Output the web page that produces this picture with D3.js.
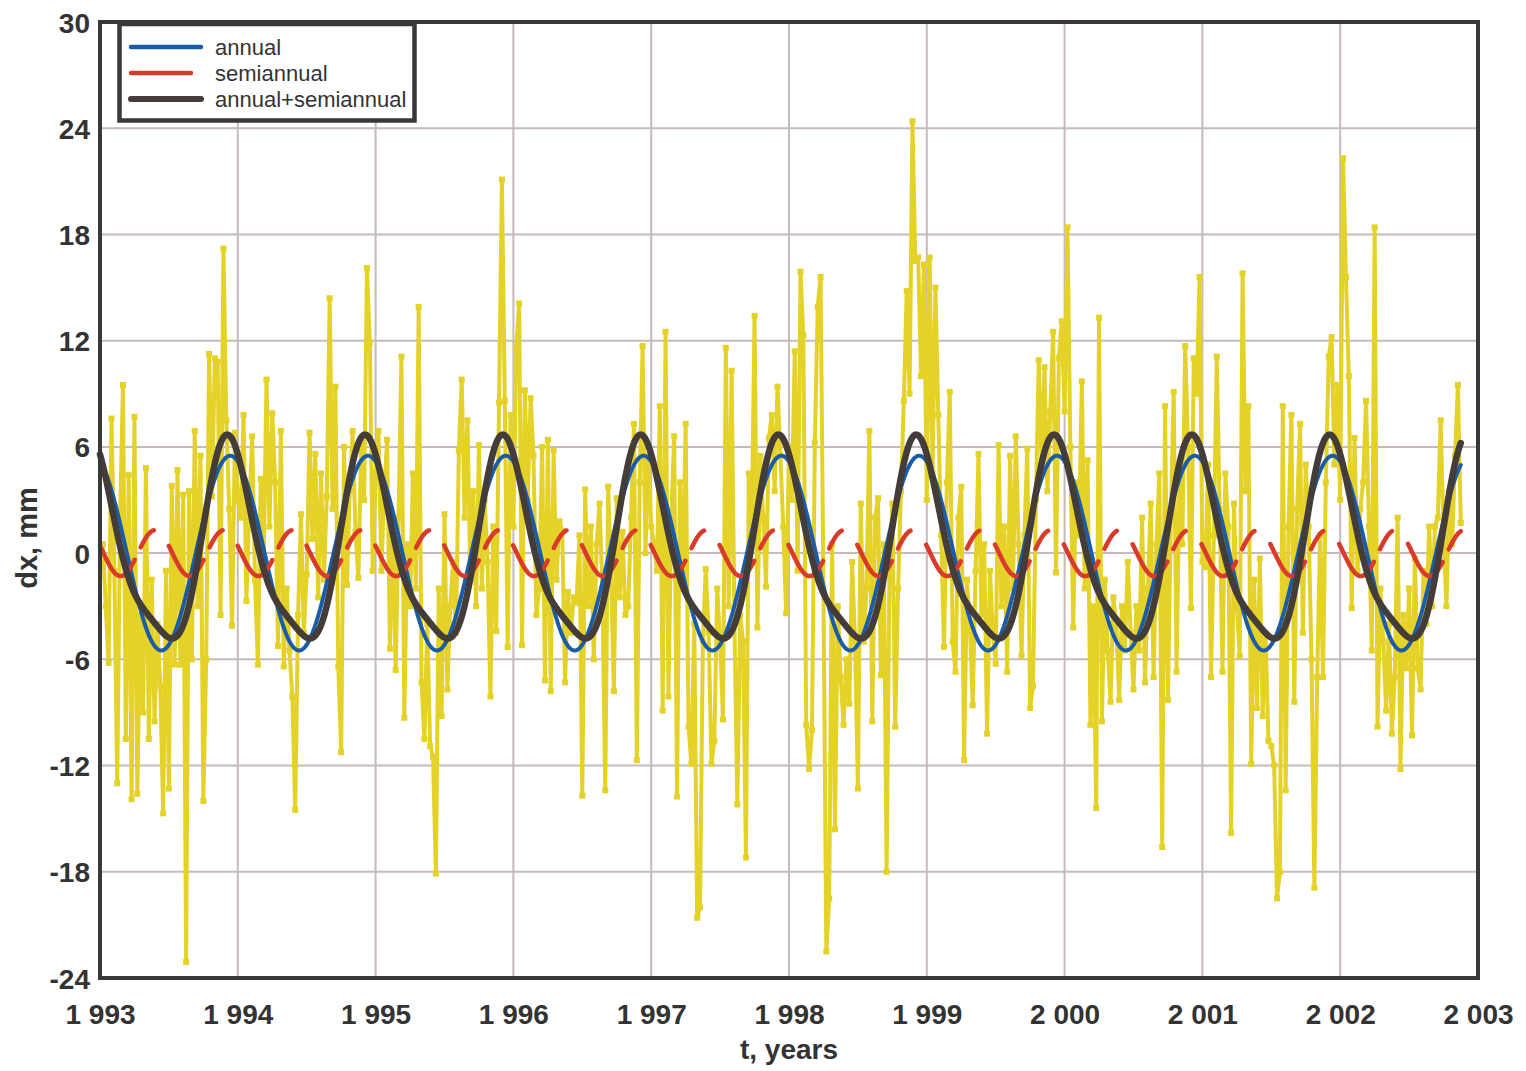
<!DOCTYPE html>
<html>
<head>
<meta charset="utf-8">
<script src="https://cdn.jsdelivr.net/npm/d3@7"></script>
<style>
  body { margin: 0; background: #fff; }
  svg text { font-family: Arial, "Liberation Sans", sans-serif; fill: #333; }
</style>
</head>
<body>
<svg id="chart" width="1526" height="1071"></svg>
<script>
// weekly-ish dx residuals, 48 samples per year
var dx1993 = [0.5,-3,-6.2,7.6,-1,-13,2,9.5,-10.5,4.4,-13.9,7.7,-13.6,-3.5,-9,4.8,-10.5,-1.5,-9.5,-4,-7.5,-14.7,-1,-13.3,3.8,-6.3,4.7,-6.3,3.3,-23.1,3.5,-6,6.9,-3,5.5,-14,-6,11.25,3.2,11,10.8,-3.5,17.2,7.5,2.5,-4.1,6.8,3];
var dx1994 = [2,7.8,-2.7,2.5,6.6,-1.5,-6.3,4.2,-0.5,9.8,1.5,7.9,4,-5.25,6.9,-6.4,-2,-5.5,-8.1,-14.5,-3.5,2.2,-4.5,-1.2,6.8,0.8,5.6,-2.5,4.5,-1.5,3.2,14.4,2.5,9.4,-6.4,-11.25,6,-1.8,3.5,6.9,1.2,-1.4,6.2,3,16.1,11.9,-1,4.5];
var dx1995 = [6.9,-1,3.5,6.4,-5.4,1.5,-6.6,2,11.1,-9.3,0.5,-3,4.5,-2,13.9,-7.3,-10.5,-4,-10.9,-11.5,-18.1,-2,-9.2,2.2,-7.7,-3,-0.5,-4.5,5.8,9.8,2,7.5,-1.5,3.5,-3,6.1,-2,3,-0.5,-8.1,1.5,-4.4,8.5,21.1,8.6,-5.3,7.8,1.5];
var dx1996 = [11.6,14.1,-5.2,9.2,3,8.75,5.5,-3.5,-2,6,-7.2,6.4,-7.8,5.8,-1.5,1.8,1.25,-7.3,-2.2,-4.5,-2.5,-2.8,1,-13.7,3.6,-3,1.5,-6,0.5,2.8,-2,-13.4,3.75,-1,-7.8,3.1,-2.5,1.2,-3.5,-3,2,7.3,-11.7,4,11.7,0,5.5,1.5];
var dx1997 = [0.5,-1,8.3,-8.9,12.5,-8.1,2,6.6,-13.75,4,-2,7.3,-9.8,-11.9,-4,-20.6,-20,-5,-0.9,-4.5,-11.9,-10.6,-2,-5,-9.4,11.6,-3,10.3,-4,-14.2,-3.5,-5,-17.2,4.5,1,13.4,-4.2,5.5,2,-1.9,6.5,7.8,3.5,9.4,5.5,1.5,-3.4,6];
var dx1998 = [3,11.4,-1,15.9,12.3,-9.7,-12.2,-10,6.25,13.9,15.6,-2,-22.5,-19.5,0.5,-15.6,-3,-7,-9.7,-6,-8.5,-0.5,-5,-13.3,2.8,-5,-2,6.9,-9.5,2,3.1,-6.9,0.5,-18,-1,2.8,-9.8,-2,3.5,8.6,14.8,9,24.4,16.5,16.7,10,16.3,3];
var dx1999 = [16.7,4.5,15,7.8,1,-5.3,4,9.1,-5,-6.7,2,3.75,-11.7,-1.5,-4,-8.6,-1,5.6,-3.5,0.5,-10.2,-1,-4.5,-6.25,6.1,-3,1.5,-6.7,5.5,-2,6.6,0.5,-5.8,1,5.9,-8.75,-7.5,3,10.9,5,10.5,3.5,8,12.5,-1.1,11,13.1,8];
var dx2000 = [18.4,6,-4.2,4,1,9.7,-2,5.25,-9.7,-3,-14.4,13.3,-9.5,-1.5,-5.5,-8.4,-2.5,-4,-8.3,-3,-5.5,-0.5,-4.5,-7.7,-3,-5.5,2,-7.3,-2,2.8,-7,0.5,4.5,-16.6,8.3,-8.3,2,9.1,-6.7,4,0.5,11.7,6,-3.1,11,9,15.6,-0.5];
var dx2001 = [-0.8,5,-7,1,11.1,2.5,-6.7,4.5,1.5,-15.8,2.8,-3,-5.8,15.8,3.5,8.3,-11.9,-1.5,-8.75,-0.3,-9.2,-4.5,-10.6,-10.9,-12,-19.5,-18,8.3,-13.4,1.5,7.8,-8.4,2.5,7.3,-4.5,5,1.5,-6,-18.9,-7,1,-7,4,11.1,12.2,5,9.5,3];
var dx2002 = [22.3,15.6,10,-3.1,6.5,-1,2.5,4,8.6,1.5,-5.5,18.4,-9.8,-2,-5,-8.9,-4,-10.2,-7,2,-12.2,-3.5,-6.5,-2,-10.3,-0.3,-6.5,-7.7,-1,-4,1.5,-3,1.5,2,7.5,1,-3,3.5,0.5,5.5,9.5,1.7];

var years = [1993,1994,1995,1996,1997,1998,1999,2000,2001,2002];
var dxByYear = [dx1993,dx1994,dx1995,dx1996,dx1997,dx1998,dx1999,dx2000,dx2001,dx2002];
var samplesPerYear = 48;

// fitted harmonics: amplitude (mm) and time of peak (fraction of year)
var annualAmp = 5.5, annualPeak = 0.945;
var semiAmp = 1.3, semiPeak = 0.90;

var yTicks = [-24,-18,-12,-6,0,6,12,18,24,30];
var xTicks = [1993,1994,1995,1996,1997,1998,1999,2000,2001,2002,2003];

var legendItems = [
  {name: "annual", key: "annual"},
  {name: "semiannual", key: "semi"},
  {name: "annual+semiannual", key: "sum"}
];

var styles = {
  annual: {color: "#1a5ca8", width: 4,   dash: null},
  semi:   {color: "#d93b2b", width: 4.5, dash: "60,14,22,23"},
  sum:    {color: "#443c39", width: 6.5, dash: null}
};

var pLeft = 100, pTop = 22, pRight = 1478, pBottom = 978;

var svg = d3.select("#chart");

var x = d3.scaleLinear().domain([1993, 2003]).range([pLeft, pRight]);
var y = d3.scaleLinear().domain([-24, 30]).range([pBottom, pTop]);

// observations with time stamps
var obs = [];
years.forEach(function(yr, k){
  dxByYear[k].forEach(function(v, i){
    obs.push({t: yr + (i + 1) / samplesPerYear, v: v});
  });
});

var tStart = 1993, tEnd = obs[obs.length - 1].t;

function annual(t){ return annualAmp * Math.cos(2 * Math.PI * (t - annualPeak)); }
function semi(t){ return semiAmp * Math.cos(4 * Math.PI * (t - semiPeak)); }

var tFine = d3.range(tStart, tEnd + 1e-9, 1 / 240);
var curves = {
  annual: tFine.map(function(t){ return {t: t, v: annual(t)}; }),
  semi:   tFine.map(function(t){ return {t: t, v: semi(t)}; }),
  sum:    tFine.map(function(t){ return {t: t, v: annual(t) + semi(t)}; })
};

// grid
svg.append("g")
  .selectAll("line")
  .data(xTicks.slice(1, -1))
  .enter().append("line")
  .attr("x1", d => x(d)).attr("x2", d => x(d))
  .attr("y1", pTop).attr("y2", pBottom)
  .attr("stroke", "#c6baba").attr("stroke-width", 2);

svg.append("g")
  .selectAll("line")
  .data(yTicks.slice(1, -1))
  .enter().append("line")
  .attr("x1", pLeft).attr("x2", pRight)
  .attr("y1", d => y(d)).attr("y2", d => y(d))
  .attr("stroke", "#c6baba").attr("stroke-width", 2);

// observed series
var line = d3.line().x(d => x(d.t)).y(d => y(d.v));

svg.append("path")
  .datum(obs)
  .attr("d", line)
  .attr("fill", "none")
  .attr("stroke", "#e4d228")
  .attr("stroke-width", 4)
  .attr("stroke-linejoin", "round");

svg.append("g")
  .selectAll("rect")
  .data(obs)
  .enter().append("rect")
  .attr("x", d => x(d.t) - 3)
  .attr("y", d => y(d.v) - 3)
  .attr("width", 6).attr("height", 6)
  .attr("fill", "#e4d228");

// model curves
["annual", "semi", "sum"].forEach(function(key){
  var s = styles[key];
  svg.append("path")
    .datum(curves[key])
    .attr("d", line)
    .attr("fill", "none")
    .attr("stroke", s.color)
    .attr("stroke-width", s.width)
    .attr("stroke-linecap", "round")
    .attr("stroke-linejoin", "round")
    .attr("stroke-dasharray", s.dash);
});

// frame
svg.append("rect")
  .attr("x", pLeft).attr("y", pTop)
  .attr("width", pRight - pLeft).attr("height", pBottom - pTop)
  .attr("fill", "none")
  .attr("stroke", "#38383b").attr("stroke-width", 4);

// axes
var fmt = d3.formatLocale({decimal: ".", thousands: " ", grouping: [3], currency: ["", ""]}).format(",d");

var xAxis = svg.append("g")
  .attr("transform", "translate(0," + pBottom + ")")
  .call(d3.axisBottom(x).tickValues(xTicks).tickFormat(fmt).tickSize(0).tickPadding(26));
var yAxis = svg.append("g")
  .attr("transform", "translate(" + pLeft + ",0)")
  .call(d3.axisLeft(y).tickValues(yTicks).tickFormat(d => String(d)).tickSize(0).tickPadding(10));

[xAxis, yAxis].forEach(function(a){
  a.select(".domain").remove();
  a.selectAll("text")
    .style("font-size", "28px")
    .style("font-weight", "bold")
    .style("fill", "#333")
    .style("font-family", "Arial, 'Liberation Sans', sans-serif");
});
yAxis.selectAll("text").attr("dy", "0.36em");

svg.append("text")
  .attr("x", x(1998)).attr("y", 1059)
  .attr("text-anchor", "middle")
  .style("font-size", "28px").style("font-weight", "bold")
  .text("t, years");

svg.append("text")
  .attr("transform", "translate(37,538) rotate(-90)")
  .attr("text-anchor", "middle")
  .style("font-size", "29px").style("font-weight", "bold")
  .text("dx, mm");

// legend
var lg = svg.append("g");
lg.append("rect")
  .attr("x", 119.5).attr("y", 24)
  .attr("width", 295).attr("height", 96.5)
  .attr("fill", "#fff")
  .attr("stroke", "#38383b").attr("stroke-width", 4.5);

var rows = lg.selectAll("g.row")
  .data(legendItems)
  .enter().append("g")
  .attr("transform", (d, i) => "translate(0," + (47 + i * 26) + ")");

rows.append("line")
  .attr("x1", 131).attr("x2", 201)
  .attr("y1", 0).attr("y2", 0)
  .attr("stroke", d => styles[d.key].color)
  .attr("stroke-width", d => d.key == "sum" ? 6 : 4.5)
  .attr("stroke-linecap", "round")
  .attr("stroke-dasharray", d => styles[d.key].dash);

rows.append("text")
  .attr("x", 215).attr("y", 8)
  .style("font-size", "22px")
  .text(d => d.name);
</script>
</body>
</html>
